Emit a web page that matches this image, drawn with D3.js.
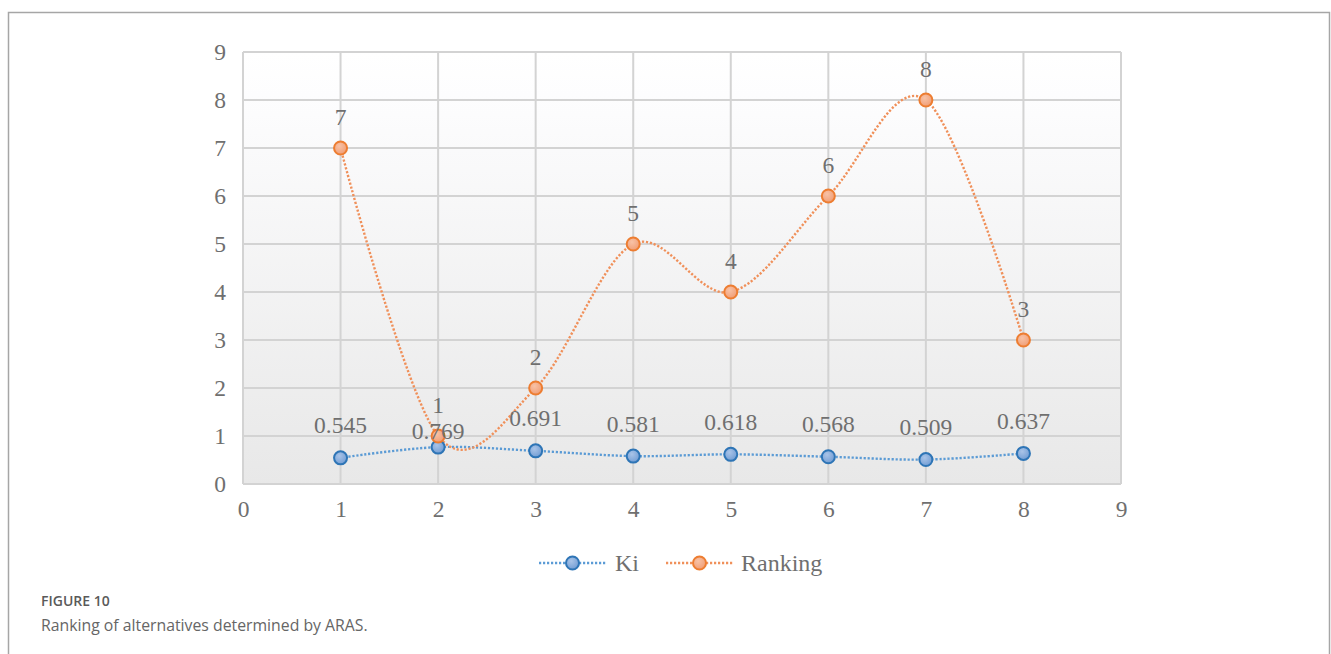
<!DOCTYPE html>
<html>
<head>
<meta charset="utf-8">
<script src="https://cdn.jsdelivr.net/npm/d3@7"></script>
<style>
  html, body { margin: 0; padding: 0; background: #fff; }
  svg { display: block; }
</style>
</head>
<body>
<svg id="chart" width="1331" height="654"></svg>
<script>
// Alternatives 1..8 and their ARAS results
const alternatives = [1, 2, 3, 4, 5, 6, 7, 8];
const kiValues = [0.545, 0.769, 0.691, 0.581, 0.618, 0.568, 0.509, 0.637];
const rankingValues = [7, 1, 2, 5, 4, 6, 8, 3];
const xTicks = [0, 1, 2, 3, 4, 5, 6, 7, 8, 9];
const yTicks = [0, 1, 2, 3, 4, 5, 6, 7, 8, 9];
const seriesNames = ["Ki", "Ranking"];

const svg = d3.select("#chart");
const W = 1331, H = 654;
const plot = { left: 243, right: 1121, top: 52, bottom: 484 };
const textColor = "#6f6f6f";
const serif = "'Liberation Serif', 'Times New Roman', serif";

const x = d3.scaleLinear().domain([0, 9]).range([plot.left, plot.right]);
const y = d3.scaleLinear().domain([0, 9]).range([plot.bottom, plot.top]);

const defs = svg.append("defs");
const bg = defs.append("linearGradient").attr("id", "plotBg")
  .attr("x1", 0).attr("y1", 0).attr("x2", 0).attr("y2", 1);
bg.append("stop").attr("offset", "0%").attr("stop-color", "#ffffff");
bg.append("stop").attr("offset", "10%").attr("stop-color", "#fdfdfe");
bg.append("stop").attr("offset", "100%").attr("stop-color", "#e8e8e8");

function markerGradient(id, light, dark) {
  const g = defs.append("radialGradient").attr("id", id)
    .attr("cx", "40%").attr("cy", "35%").attr("r", "70%");
  g.append("stop").attr("offset", "0%").attr("stop-color", light);
  g.append("stop").attr("offset", "100%").attr("stop-color", dark);
}
markerGradient("kiFill", "#a9c4e8", "#6f9bd3");
markerGradient("rankFill", "#f8c2a6", "#f09c73");

const series = [
  { name: seriesNames[0], values: kiValues, line: "#5b9bd5", stroke: "#2e75b6", fill: "url(#kiFill)",
    fmt: d3.format(".3f"), labelGap: 24.5 },
  { name: seriesNames[1], values: rankingValues, line: "#f0905a", stroke: "#ed7d31", fill: "url(#rankFill)",
    fmt: d3.format("d"), labelGap: 23 }
];

// Outer figure frame (open at the bottom)
svg.append("path")
  .attr("d", `M8.5,${H} V12.5 H1329.5 V${H}`)
  .attr("fill", "none").attr("stroke", "#a6a6a6").attr("stroke-width", 1.5);

// Plot background
svg.append("rect")
  .attr("x", plot.left).attr("y", plot.top)
  .attr("width", plot.right - plot.left).attr("height", plot.bottom - plot.top)
  .attr("fill", "url(#plotBg)");

// Grid lines
const grid = svg.append("g").attr("stroke", "#d3d3d3").attr("stroke-width", 2);
grid.selectAll("line.h").data(yTicks).join("line")
  .attr("x1", plot.left).attr("x2", plot.right)
  .attr("y1", d => y(d)).attr("y2", d => y(d));
grid.selectAll("line.v").data(xTicks).join("line")
  .attr("y1", plot.top).attr("y2", plot.bottom)
  .attr("x1", d => x(d)).attr("x2", d => x(d));

// Axes (labels only; lines come from the grid)
const yAxis = svg.append("g").attr("transform", `translate(${plot.left},0)`)
  .call(d3.axisLeft(y).tickValues(yTicks).tickFormat(d3.format("d")).tickSize(0).tickPadding(17));
const xAxis = svg.append("g").attr("transform", `translate(0,${plot.bottom})`)
  .call(d3.axisBottom(x).tickValues(xTicks).tickFormat(d3.format("d")).tickSize(0).tickPadding(16));
[xAxis, yAxis].forEach(a => {
  a.select(".domain").remove();
  a.selectAll("text").attr("fill", textColor).style("font-family", serif).style("font-size", "23.5px");
});

// Smoothed dotted lines, markers and value labels
const line = d3.line()
  .x((d, i) => x(alternatives[i]))
  .y(d => y(d))
  .curve(d3.curveCatmullRom.alpha(0));

series.forEach(s => {
  svg.append("path")
    .datum(s.values)
    .attr("d", line)
    .attr("fill", "none")
    .attr("stroke", s.line)
    .attr("stroke-width", 2.4)
    .attr("stroke-dasharray", "2.2,1.8");
});

series.forEach(s => {
  const g = svg.append("g");
  g.selectAll("circle").data(s.values).join("circle")
    .attr("cx", (d, i) => x(alternatives[i]))
    .attr("cy", d => y(d))
    .attr("r", 6.5)
    .attr("fill", s.fill)
    .attr("stroke", s.stroke)
    .attr("stroke-width", 2);
});

// Where a Ki label would sit on top of the ranking label at the same
// alternative, push it down closer to its marker.
function labelY(s, d, i) {
  let ly = y(d) - s.labelGap;
  if (s === series[0]) {
    const other = y(rankingValues[i]) - series[1].labelGap;
    if (Math.abs(other - ly) < 20) ly += 16;
  }
  return ly;
}

series.forEach(s => {
  svg.append("g").selectAll("text").data(s.values).join("text")
    .attr("x", (d, i) => x(alternatives[i]))
    .attr("y", (d, i) => labelY(s, d, i))
    .attr("text-anchor", "middle")
    .attr("fill", textColor)
    .style("font-family", serif)
    .style("font-size", "23.5px")
    .text(d => s.fmt(d));
});

// Legend
const legendY = 563;
const legendItems = [
  { s: series[0], x0: 539, x1: 606, tx: 615 },
  { s: series[1], x0: 666, x1: 733, tx: 741 }
];
legendItems.forEach(it => {
  const g = svg.append("g");
  g.append("line")
    .attr("x1", it.x0).attr("x2", it.x1).attr("y1", legendY).attr("y2", legendY)
    .attr("stroke", it.s.line).attr("stroke-width", 2.4).attr("stroke-dasharray", "2.2,1.8");
  g.append("circle")
    .attr("cx", (it.x0 + it.x1) / 2).attr("cy", legendY).attr("r", 6.5)
    .attr("fill", it.s.fill).attr("stroke", it.s.stroke).attr("stroke-width", 2);
  g.append("text")
    .attr("x", it.tx).attr("y", legendY).attr("dy", "0.35em")
    .attr("fill", textColor)
    .style("font-family", serif).style("font-size", "24px")
    .text(it.s.name);
});

// Caption
svg.append("text")
  .attr("x", 41).attr("y", 606)
  .attr("fill", "#5a5a5a")
  .style("font-family", "'Open Sans', sans-serif")
  .style("font-weight", 600).style("font-size", "14px")
  .text("FIGURE 10");
svg.append("text")
  .attr("x", 41).attr("y", 631)
  .attr("fill", "#666")
  .style("font-family", "'Open Sans', sans-serif")
  .style("font-size", "15.8px")
  .text("Ranking of alternatives determined by ARAS.");
</script>
</body>
</html>
